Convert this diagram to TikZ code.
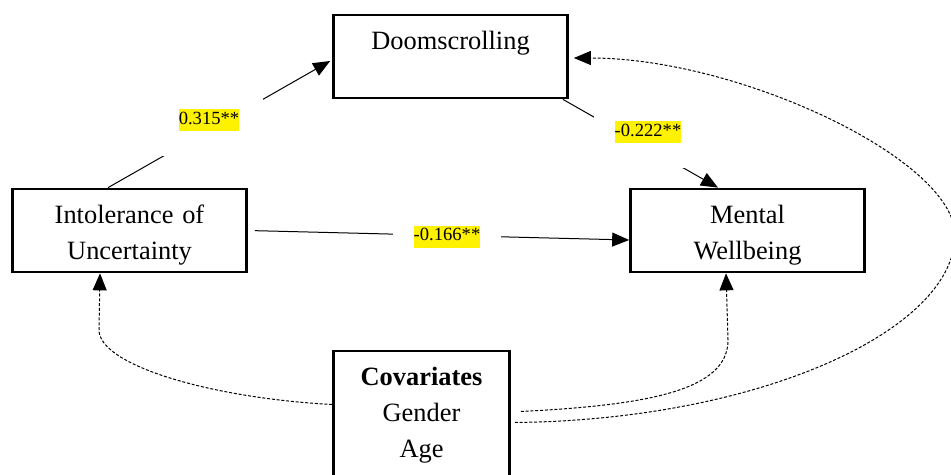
\documentclass[tikz,border=0pt]{standalone}
\usepackage{fontspec}
\setmainfont{Liberation Serif}
\usepackage{tikz}
\usetikzlibrary{arrows.meta}
\usetikzlibrary{calc}
\tikzstyle{varblock} = [rectangle, draw, line width=1.35pt, text width=117pt, align=center,
    inner sep=0pt, text height=17.5pt, text depth=24pt, font=\fontsize{13.2}{18}\selectfont]
\tikzstyle{coef} = [fill=white, minimum width=54pt, minimum height=36pt,
    font=\fontsize{9.3}{11}\selectfont]
\tikzstyle{line} = [draw, line width=0.5pt, -{Triangle[length=8.5pt,width=7pt]}]
\tikzstyle{covline} = [line, dash pattern=on 1.5pt off 0.9pt]
\setlength{\fboxsep}{0pt}

\begin{document}
\begin{tikzpicture}[x=0.5pt, y=-0.5pt]
    \clip (0,0) rectangle (951,475);
    \node [varblock] (doom) at (450.5,56.5) {Doomscrolling};
    \node [varblock] (iou) at (129.5,230.5) {Intolerance of\\ Uncertainty};
    \node [varblock, right of=iou, node distance=309pt] (mw) {Mental\\ Wellbeing};
    \node [varblock, text width=88pt, text depth=80pt, anchor=north] (cov) at (421.5,349.5)
        {\textbf{Covariates}\\ Gender\\ Age};
    % Draw edges
    \path[line] ($(iou.north)+(-21.5,0)$) -- ($(doom.west)+(-2,4.5)$);
    \path[line] ($(doom.south east)+(-6,0)$) -- ($(mw.north)+(-29.5,0)$);
    \path[line, shorten <=3.5pt] (iou.east) -- ($(mw.west)+(0,9.5)$);
    % covariates
    \path[covline] ($(cov.north west)+(0,55)$) .. controls (210,398) and (99,365) .. (99,330)
        -- ($(iou.south)+(-29.5,0)$);
    \path[covline] ($(cov.north east)+(10,62)$) .. controls (650,405) and (728,390) .. (728,340)
        -- ($(mw.south)+(-21.5,0)$);
    \path[covline] ($(cov.north east)+(4,73)$) .. controls (760,420) and (955,330) .. (955,235)
        .. controls (955,160) and (740,58) .. ($(doom.east)+(5,1.5)$);
    % coefficients
    \node [coef] (iddlbl) at (209,120) {\colorbox{yellow}{\strut 0.315**}};
    \node [coef] (dmwlbl) at (648,132.5) {\colorbox{yellow}{\strut -0.222**}};
    \node [coef] (imwlbl) at (447,236.5) {\colorbox{yellow}{\strut -0.166**}};
\end{tikzpicture}
\end{document}
